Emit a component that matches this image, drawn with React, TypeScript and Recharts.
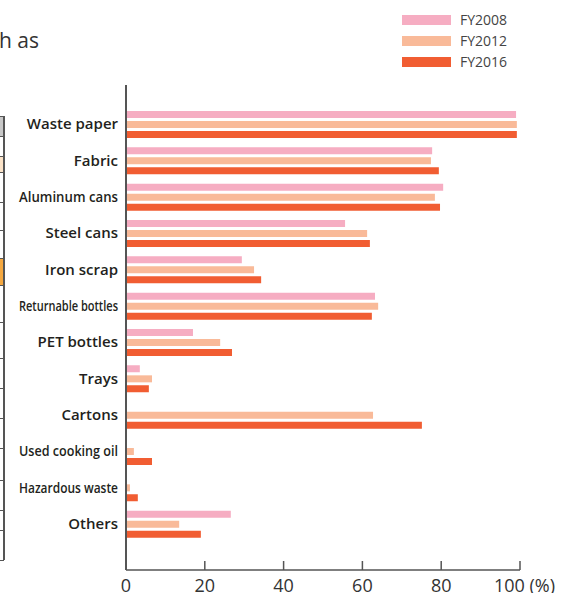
import { BarChart, Bar, XAxis, YAxis } from "recharts";

const categories = [
  "Waste paper",
  "Fabric",
  "Aluminum cans",
  "Steel cans",
  "Iron scrap",
  "Returnable bottles",
  "PET bottles",
  "Trays",
  "Cartons",
  "Used cooking oil",
  "Hazardous waste",
  "Others",
];
const fy2008 = [99.0, 77.7, 80.5, 55.6, 29.4, 63.2, 17.0, 3.5, 0, 0, 0, 26.6];
const fy2012 = [99.2, 77.4, 78.4, 61.2, 32.5, 64.0, 23.9, 6.6, 62.7, 2.0, 1.0, 13.5];
const fy2016 = [99.2, 79.4, 79.7, 61.9, 34.3, 62.4, 26.9, 5.8, 75.1, 6.6, 3.0, 19.0];
const xTicks = [0, 20, 40, 60, 80, 100];

const series = [
  { key: "fy2008", name: "FY2008", color: "#F6ADC2" },
  { key: "fy2012", name: "FY2012", color: "#F9BA99" },
  { key: "fy2016", name: "FY2016", color: "#F15D32" },
];

// labels drawn squeezed in the original
const condensed = new Set(["Aluminum cans", "Returnable bottles", "Used cooking oil", "Hazardous waste"]);

const data = categories.map((name, i) => ({
  name,
  fy2008: fy2008[i],
  fy2012: fy2012[i],
  fy2016: fy2016[i],
}));

const FONT = "'Open Sans', 'Noto Sans', sans-serif";

function CategoryTick(props: any) {
  const { x, y, payload } = props;
  const label = String(payload.value);
  const squeeze = condensed.has(label);
  return (
    <text
      x={x}
      y={y}
      dy={5}
      textAnchor="end"
      fontFamily={FONT}
      fontWeight={600}
      fontSize={squeeze ? 14 : 15}
      fill="#231f20"
      {...(squeeze ? { textLength: 99, lengthAdjust: "spacingAndGlyphs" } : {})}
    >
      {label}
    </text>
  );
}

function ValueTick(props: any) {
  const { x, y, payload } = props;
  const v = payload.value;
  return (
    <g>
      {v !== 0 && <line x1={x} y1={y} x2={x} y2={y - 9} stroke="#555" strokeWidth={1.5} />}
      {v === 100 ? (
        <text x={x - 26} y={y + 22} textAnchor="start" fontFamily={FONT} fontSize={18} fill="#333">
          100 (%)
        </text>
      ) : (
        <text x={x} y={y + 22} textAnchor="middle" fontFamily={FONT} fontSize={18} fill="#333">
          {v}
        </text>
      )}
    </g>
  );
}

const tableLines = [116, 136, 156, 172, 202, 230, 258, 285, 322, 358, 388, 418, 448, 480, 510, 530, 560];

export default function App() {
  return (
    <div style={{ position: "absolute", left: 0, top: 0, width: 565, height: 593, background: "#fff", overflow: "hidden" }}>
      {/* fragments of the neighbouring page content */}
      <div style={{ position: "absolute", left: -1, top: 26, fontFamily: FONT, fontSize: 21, color: "#333" }}>h as</div>
      <div style={{ position: "absolute", left: 0, top: 116, width: 4, height: 20, background: "#c8c8c8" }} />
      <div style={{ position: "absolute", left: 0, top: 156, width: 4, height: 16, background: "#fbe3c8" }} />
      <div style={{ position: "absolute", left: 0, top: 258, width: 4, height: 27, background: "#f5a840" }} />
      <div style={{ position: "absolute", left: 3, top: 116, width: 1.5, height: 444, background: "#555" }} />
      {tableLines.map((t) => (
        <div key={t} style={{ position: "absolute", left: 0, top: t, width: 4, height: 1, background: "#555" }} />
      ))}

      <div style={{ position: "absolute", left: 402, top: 0, fontFamily: FONT, fontSize: 14, color: "#444" }}>
        {series.map((s, i) => (
          <div key={s.key} style={{ position: "absolute", top: 13 + i * 21, left: 0, display: "flex", alignItems: "center", whiteSpace: "nowrap" }}>
            <span style={{ display: "inline-block", width: 49, height: 10, background: s.color, marginRight: 9 }} />
            <span style={{ lineHeight: "14px" }}>{s.name}</span>
          </div>
        ))}
      </div>

      <div style={{ position: "absolute", left: 0, top: 0 }}>
        <BarChart
          width={565}
          height={593}
          data={data}
          layout="vertical"
          margin={{ top: 85, right: 45, left: 0, bottom: 0 }}
          barSize={7}
          barGap={3}
        >
          <XAxis
            type="number"
            domain={[0, 100]}
            ticks={xTicks}
            interval={0}
            height={23}
            tickSize={0}
            tickMargin={0}
            tickLine={false}
            axisLine={{ stroke: "#555", strokeWidth: 1.5 }}
            tick={<ValueTick />}
          />
          <YAxis
            type="category"
            dataKey="name"
            width={126}
            padding={{ top: 21, bottom: 28 }}
            tickLine={false}
            axisLine={{ stroke: "#555", strokeWidth: 2 }}
            tick={<CategoryTick />}
            interval={0}
          />
          {series.map((s) => (
            <Bar key={s.key} dataKey={s.key} name={s.name} fill={s.color} isAnimationActive={false} />
          ))}
        </BarChart>
      </div>
    </div>
  );
}
